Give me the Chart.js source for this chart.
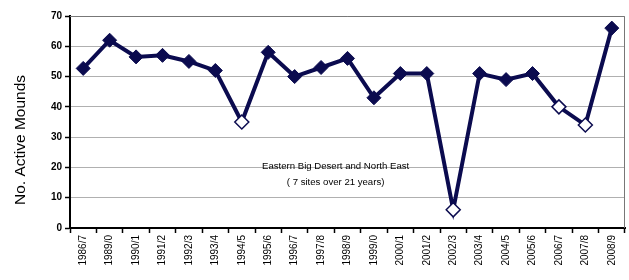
<!DOCTYPE html>
<html>
<head>
<meta charset="utf-8">
<script src="https://cdn.jsdelivr.net/npm/chart.js@4"></script>
<style>
  body { margin: 0; background: #fff; }
  #wrap { width: 629px; height: 280px; }
</style>
</head>
<body>
<div id="wrap"><canvas id="chart" width="629" height="280"></canvas></div>
<script>
const seasons = ['1986/7','1989/0','1990/1','1991/2','1992/3','1993/4','1994/5','1995/6','1996/7','1997/8','1998/9','1999/0','2000/1','2001/2','2002/3','2003/4','2004/5','2005/6','2006/7','2007/8','2008/9'];
const activeMounds = [52.7, 62, 56.5, 57, 55, 52, 35, 58, 50, 53, 56, 43, 51, 51, 6, 51, 49, 51, 40, 34, 66];
const openSeasons = ['1994/5','2002/3','2006/7','2007/8'];
const yTicks = [0, 10, 20, 30, 40, 50, 60, 70];
const yTitle = 'No. Active Mounds';
const noteLines = ['Eastern Big Desert and North East', '( 7 sites over 21 years)'];

const navy = '#0b0b4f';
const font = '"Liberation Sans", Arial, sans-serif';

const frame = {
  id: 'frame',
  afterDraw(chart) {
    const { ctx, chartArea: a, scales } = chart;
    ctx.save();
    ctx.strokeStyle = '#777';
    ctx.lineWidth = 1;
    ctx.beginPath();
    ctx.moveTo(a.left, a.top + 0.5);
    ctx.lineTo(a.right - 0.5, a.top + 0.5);
    ctx.lineTo(a.right - 0.5, a.bottom);
    ctx.stroke();
    ctx.fillStyle = '#000';
    ctx.font = '9.6px ' + font;
    ctx.textAlign = 'center';
    ctx.textBaseline = 'middle';
    const cx = scales.x.getPixelForValue(9.55);
    const cy = scales.y.getPixelForValue(20.3);
    ctx.fillText(noteLines[0], cx, cy);
    ctx.fillText(noteLines[1], cx, cy + 16);
    // y axis title, sits a bit below the plot centre like the original
    ctx.font = '15.5px ' + font;
    ctx.translate(21, 140);
    ctx.rotate(-Math.PI / 2);
    ctx.fillText(yTitle, 0, 0);
    ctx.restore();
  }
};

new Chart(document.getElementById('chart'), {
  type: 'line',
  data: {
    labels: seasons,
    datasets: [{
      data: activeMounds,
      borderColor: navy,
      borderWidth: 4,
      tension: 0,
      clip: false,
      pointStyle: 'rectRot',
      pointRadius: 7,
      pointBorderWidth: seasons.map(s => openSeasons.includes(s) ? 1.5 : 1),
      pointBorderColor: navy,
      pointBackgroundColor: seasons.map(s => openSeasons.includes(s) ? '#fff' : navy)
    }]
  },
  options: {
    responsive: false,
    animation: false,
    layout: { autoPadding: false, padding: { top: 16, right: 4, left: 0, bottom: 0 } },
    plugins: { legend: { display: false }, tooltip: { enabled: false } },
    scales: {
      x: {
        offset: true,
        grid: { offset: true, drawOnChartArea: false, drawTicks: true, tickLength: 5, tickColor: '#000', tickWidth: 1.5 },
        border: { color: '#000', width: 2 },
        ticks: {
          color: '#000',
          font: { family: font, size: 10 },
          minRotation: 90, maxRotation: 90, autoSkip: false, padding: 2
        },
        afterFit(s) { s.height = 52; s.paddingRight = 0; s.paddingLeft = 0; }
      },
      y: {
        min: 0, max: 70,
        afterBuildTicks(s) { s.ticks = yTicks.map(v => ({ value: v })); },
        grid: { color: '#b0b0b0', lineWidth: 1, tickLength: 5, tickColor: '#000', tickWidth: 1.5 },
        border: { color: '#000', width: 2 },
        ticks: {
          color: '#000',
          font: { family: font, size: 10, weight: 'bold' },
          padding: 3
        },
        afterFit(s) { s.width = 70; }
      }
    }
  },
  plugins: [frame]
});
</script>
</body>
</html>
